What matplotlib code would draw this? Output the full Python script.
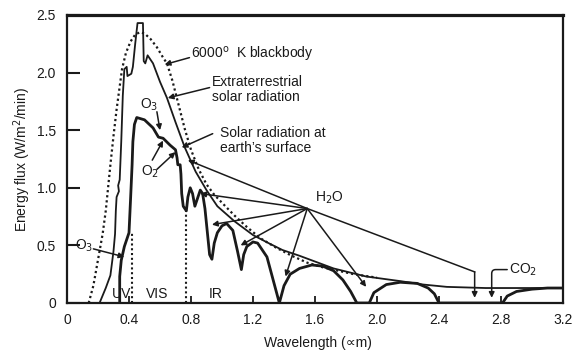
import matplotlib
matplotlib.use("Agg")
import matplotlib.pyplot as plt

plt.rcParams['font.family'] = ['Liberation Sans', 'DejaVu Sans']

# 6000 K blackbody (dotted)
bb_x = [0.14, 0.17, 0.19, 0.21, 0.23, 0.25, 0.265, 0.28, 0.30, 0.32, 0.34, 0.355, 0.38, 0.41,
        0.44, 0.47, 0.50, 0.54, 0.58, 0.62, 0.645, 0.68, 0.72, 0.76, 0.80, 0.85, 0.90, 0.95,
        1.00, 1.08, 1.16, 1.25, 1.35, 1.45, 1.55, 1.65, 1.75, 1.85, 2.0]
bb_y = [0.0, 0.15, 0.30, 0.45, 0.60, 0.80, 1.00, 1.20, 1.45, 1.68, 1.88, 2.03, 2.17, 2.27,
        2.33, 2.35, 2.34, 2.29, 2.22, 2.13, 2.08, 1.93, 1.72, 1.51, 1.33, 1.16, 1.03, 0.94,
        0.87, 0.76, 0.66, 0.56, 0.48, 0.41, 0.35, 0.31, 0.28, 0.25, 0.22]

# extraterrestrial solar radiation
et_x = [0.21, 0.25, 0.28, 0.30, 0.31, 0.315, 0.32, 0.335, 0.33, 0.34, 0.35, 0.36, 0.37, 0.385,
        0.39, 0.415, 0.425, 0.44, 0.455, 0.49, 0.495, 0.505, 0.52, 0.555, 0.60, 0.645, 0.70,
        0.76, 0.83, 0.90, 0.97, 1.08, 1.20, 1.30, 1.39, 1.50, 1.60, 1.72, 1.93, 2.15, 2.30,
        2.45, 2.70, 3.00, 3.20]
et_y = [0.0, 0.13, 0.24, 0.45, 0.60, 0.80, 0.92, 0.97, 1.02, 1.07, 1.40, 1.80, 2.03, 2.05,
        1.97, 1.99, 2.05, 2.25, 2.43, 2.43, 2.10, 2.08, 2.15, 2.08, 1.92, 1.78, 1.57,
        1.35, 1.14, 0.98, 0.84, 0.71, 0.59, 0.52, 0.46, 0.41, 0.36, 0.30, 0.23, 0.19, 0.16,
        0.14, 0.13, 0.13, 0.13]

# solar radiation at earth's surface
sf_x = [0.34, 0.34, 0.35, 0.37, 0.40, 0.41, 0.42, 0.425, 0.435, 0.45, 0.50, 0.555, 0.59, 0.62,
        0.665, 0.70, 0.71, 0.715, 0.73, 0.735, 0.74, 0.75, 0.77, 0.78, 0.795, 0.81, 0.825,
        0.84, 0.86, 0.875, 0.89, 0.905, 0.92, 0.935, 0.95, 0.97, 1.00, 1.03, 1.07, 1.10,
        1.125, 1.14, 1.16, 1.20, 1.23, 1.29, 1.33, 1.37, 1.40, 1.44, 1.50, 1.58, 1.65, 1.72,
        1.78, 1.83, 1.87, 1.95, 1.98, 2.06, 2.15, 2.26, 2.33, 2.37, 2.40, 2.81, 2.84, 2.90,
        3.00, 3.10, 3.20]
sf_y = [0.0, 0.23, 0.37, 0.49, 0.61, 0.90, 1.20, 1.40, 1.55, 1.61, 1.59, 1.52, 1.44, 1.43,
        1.37, 1.33, 1.26, 1.20, 1.20, 1.12, 0.95, 0.84, 0.80, 0.92, 1.00, 0.95, 0.84,
        0.90, 0.98, 0.95, 0.82, 0.62, 0.42, 0.38, 0.52, 0.61, 0.67, 0.69, 0.63, 0.45,
        0.29, 0.42, 0.49, 0.53, 0.52, 0.40, 0.20, 0.0, 0.15, 0.25, 0.30, 0.33, 0.32, 0.28,
        0.20, 0.10, 0.0, 0.0, 0.09, 0.16, 0.18, 0.17, 0.13, 0.08, 0.0, 0.0, 0.06, 0.10,
        0.12, 0.13, 0.13]

# UV/VIS and VIS/IR boundaries (dotted verticals)
band_x = [0.42, 0.77]
band_top = [0.62, 0.80]

# H2O absorption band arrow targets
h2o_hub = (1.55, 0.82)
h2o_tx = [0.78, 0.86, 0.935, 1.12, 1.41, 1.93]
h2o_ty = [1.24, 0.95, 0.68, 0.50, 0.23, 0.14]

xticks = [0, 0.4, 0.8, 1.2, 1.6, 2.0, 2.4, 2.8, 3.2]
xticklabels = ['0', '0.4', '0.8', '1.2', '1.6', '2.0', '2.4', '2.8', '3.2']
yticks = [0, 0.5, 1.0, 1.5, 2.0, 2.5]
yticklabels = ['0', '0.5', '1.0', '1.5', '2.0', '2.5']

ink = '#1a1a1a'
fig = plt.figure(figsize=(5.77, 3.51), dpi=100)
ax = fig.add_axes([67/577, 1-303/351, 496/577, 288/351])

ax.plot(bb_x, bb_y, color=ink, lw=1.6, linestyle=(0, (1, 1.3)))
ax.plot(et_x, et_y, color=ink, lw=1.3)
ax.plot(sf_x, sf_y, color=ink, lw=2.0)
for bx, bt in zip(band_x, band_top):
    ax.plot([bx, bx], [0, bt], color=ink, lw=1.5, linestyle=(0, (1, 1.3)))

ax.set_xlim(0, 3.2)
ax.set_ylim(0, 2.5)
ax.set_xticks(xticks)
ax.set_xticklabels(xticklabels)
ax.set_yticks(yticks)
ax.set_yticklabels(yticklabels)
ax.tick_params(axis='x', direction='in', length=5, width=1.3, pad=7, labelsize=10, colors=ink)
ax.tick_params(axis='y', direction='in', length=9, width=1.5, pad=8, labelsize=10, colors=ink)
for side in ['left', 'bottom', 'right']:
    ax.spines[side].set_linewidth(1.6)
    ax.spines[side].set_color(ink)
ax.spines['top'].set_linewidth(2.3)
ax.spines['top'].set_color(ink)

fig.text(22/577, 1-159/351, 'Energy flux (W/m$^2$/min)', rotation=90,
         ha='center', va='center', fontsize=10, color=ink)
fig.text(318/577, 1-343/351, 'Wavelength (\u221dm)', ha='center', va='center',
         fontsize=10, color=ink)

arrow = dict(arrowstyle='-|>', color=ink, lw=1.1, mutation_scale=8, shrinkA=0, shrinkB=0)
fs = 10

ax.annotate('', xy=(0.63, 2.07), xytext=(0.79, 2.13), arrowprops=arrow)
ax.text(0.80, 2.16, '6000$^{\\rm o}$  K blackbody', ha='left', va='center', fontsize=fs, color=ink)

ax.annotate('', xy=(0.65, 1.78), xytext=(0.92, 1.87), arrowprops=arrow)
ax.text(0.935, 1.85, 'Extraterrestrial\nsolar radiation', ha='left', va='center',
        fontsize=fs, color=ink, linespacing=1.1)

ax.annotate('', xy=(0.74, 1.35), xytext=(0.94, 1.47), arrowprops=arrow)
ax.text(0.99, 1.41, 'Solar radiation at\nearth\u2019s surface', ha='left', va='center',
        fontsize=fs, color=ink, linespacing=1.1)

ax.text(0.53, 1.72, 'O$_3$', ha='center', va='center', fontsize=fs, color=ink)
ax.annotate('', xy=(0.60, 1.50), xytext=(0.58, 1.66), arrowprops=arrow)

ax.text(0.535, 1.14, 'O$_2$', ha='center', va='center', fontsize=fs, color=ink)
ax.annotate('', xy=(0.62, 1.41), xytext=(0.55, 1.24), arrowprops=arrow)
ax.annotate('', xy=(0.70, 1.31), xytext=(0.58, 1.16), arrowprops=arrow)

ax.text(0.11, 0.50, 'O$_3$', ha='center', va='center', fontsize=fs, color=ink)
ax.annotate('', xy=(0.37, 0.40), xytext=(0.17, 0.47), arrowprops=arrow)

ax.text(1.60, 0.91, 'H$_2$O', ha='left', va='center', fontsize=fs, color=ink)
for tx, ty in zip(h2o_tx, h2o_ty):
    ax.annotate('', xy=(tx, ty), xytext=h2o_hub, arrowprops=arrow)
ax.plot([h2o_hub[0], 2.63], [h2o_hub[1], 0.27], color=ink, lw=1.1)
ax.annotate('', xy=(2.63, 0.045), xytext=(2.63, 0.27), arrowprops=arrow)

ax.text(2.85, 0.29, 'CO$_2$', ha='left', va='center', fontsize=fs, color=ink)
ax.annotate('', xy=(2.74, 0.045), xytext=(2.84, 0.29),
            arrowprops=dict(arrow, connectionstyle='angle,angleA=180,angleB=90,rad=4'))

for lab, lx in zip(['UV', 'VIS', 'IR'], [0.35, 0.58, 0.96]):
    ax.text(lx, 0.015, lab, ha='center', va='bottom', fontsize=fs, color=ink)

fig.savefig('out.png', dpi=100)
